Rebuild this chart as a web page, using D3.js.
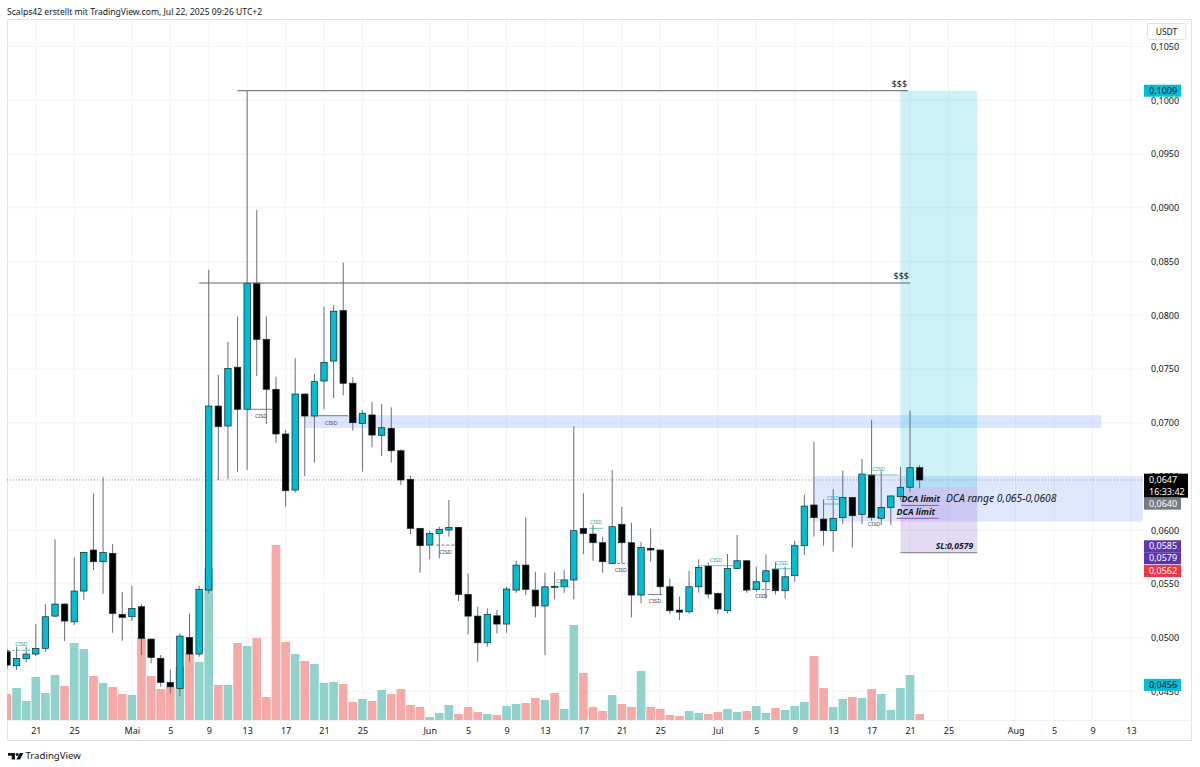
<!DOCTYPE html>
<html>
<head>
<meta charset="utf-8">
<script src="https://cdn.jsdelivr.net/npm/d3@7"></script>
<style>
  body { margin: 0; background: #fff; }
  svg text { font-family: "Noto Sans", "DejaVu Sans", sans-serif; fill: #131722; }
</style>
</head>
<body>
<svg id="chart" width="1200" height="767"></svg>
<script>
// daily candles, first one = 18 Apr 2025
var firstDay = "2025-04-18";
var opens  = [0.04868,0.04738,0.04803,0.04847,0.0490,0.0520,0.05312,0.05147,0.05433,0.05815,
              0.05706,0.05784,0.05216,0.05194,0.05287,0.04986,0.04807,0.04583,0.04527,0.05002,
              0.04847,0.05442,0.07155,0.06969,0.07516,0.07125,0.08298,0.07776,0.07311,0.06895,
              0.06373,0.07267,0.07062,0.07388,0.07574,0.08044,0.07367,0.06994,0.07072,0.06883,
              0.06948,0.06739,0.06473,0.06017,0.05861,0.0597,0.06001,0.06026,0.05402,0.052,
              0.04952,0.05203,0.05126,0.05442,0.05675,0.05442,0.05294,0.05478,0.05473,0.05536,
              0.06017,0.05964,0.05883,0.05691,0.06054,0.05883,0.05396,0.05831,0.05815,0.05473,
              0.05256,0.0524,0.05473,0.05666,0.05412,0.0525,0.05644,0.05715,0.05449,0.0552,
              0.05635,0.05436,0.05576,0.05855,0.06234,0.06103,0.05995,0.06116,0.06305,0.06147,
              0.06513,0.0611,0.06212,0.06311,0.06399,0.06581];
var highs  = [0.04899,0.04915,0.04915,0.05126,0.05312,0.05914,0.0532,0.05747,0.0580,0.06343,
              0.06492,0.05871,0.05424,0.05482,0.05312,0.0499,0.04837,0.04704,0.05039,0.05225,
              0.05482,0.08422,0.07444,0.07754,0.07987,0.1009,0.0898,0.07987,0.07428,0.06932,
              0.076,0.0727,0.07453,0.08079,0.08094,0.0849,0.07423,0.07118,0.07196,0.07174,
              0.07143,0.0675,0.06504,0.0602,0.05995,0.06032,0.0628,0.0603,0.05598,0.05287,
              0.05272,0.05256,0.05473,0.05715,0.06119,0.05613,0.05603,0.05613,0.05629,0.06969,
              0.06343,0.06048,0.05939,0.0656,0.06218,0.06069,0.05892,0.06017,0.0582,0.05551,
              0.0538,0.05622,0.05728,0.05697,0.0542,0.05778,0.05955,0.0572,0.05659,0.05775,
              0.05706,0.05659,0.05901,0.06333,0.06823,0.06287,0.0638,0.06553,0.0631,0.06662,
              0.07025,0.06553,0.06324,0.0659,0.07112,0.06606];
var lows   = [0.04707,0.04698,0.04766,0.04828,0.04868,0.05194,0.04968,0.05117,0.05349,0.05629,
              0.05405,0.05045,0.0497,0.05154,0.04837,0.0476,0.04542,0.04481,0.04456,0.04775,
              0.04821,0.05412,0.06467,0.06473,0.06544,0.0656,0.07435,0.06988,0.06814,0.06218,
              0.06348,0.06504,0.06628,0.07125,0.07227,0.07255,0.06926,0.06544,0.06771,0.0669,
              0.06628,0.0642,0.05964,0.05603,0.05728,0.05738,0.05939,0.0534,0.0503,0.04775,
              0.04915,0.05039,0.05045,0.05417,0.05396,0.05188,0.04837,0.05356,0.05417,0.05356,
              0.05778,0.05715,0.05603,0.0569,0.05691,0.05188,0.05319,0.05706,0.05396,0.05219,
              0.05163,0.05225,0.05417,0.05365,0.05219,0.05225,0.0564,0.05417,0.05427,0.05365,
              0.05402,0.05365,0.0552,0.05768,0.05939,0.05855,0.05799,0.06057,0.0584,0.06057,
              0.06088,0.06048,0.06048,0.0628,0.06358,0.06389];
var closes = [0.04744,0.04807,0.04847,0.0490,0.05194,0.05312,0.05154,0.05433,0.05793,0.05706,
              0.05793,0.05225,0.05188,0.05272,0.04993,0.04816,0.04583,0.04542,0.05014,0.04847,
              0.05449,0.07155,0.06963,0.07506,0.07125,0.08298,0.07776,0.07311,0.06895,0.06367,
              0.07267,0.07062,0.07382,0.07562,0.08038,0.07367,0.0700,0.07088,0.06885,0.06953,
              0.06739,0.06467,0.06017,0.05855,0.0597,0.06008,0.06026,0.05402,0.052,0.04952,
              0.05216,0.05126,0.05452,0.05675,0.05449,0.05294,0.05473,0.05468,0.05536,0.05995,
              0.0597,0.05883,0.05706,0.06032,0.05883,0.05396,0.0584,0.05815,0.05473,0.0525,
              0.05237,0.05473,0.05654,0.05405,0.05266,0.05644,0.05715,0.05442,0.0552,0.05622,
              0.05436,0.05566,0.05855,0.06224,0.06116,0.05995,0.0611,0.06305,0.06134,0.06522,
              0.06119,0.06212,0.06318,0.06399,0.06581,0.06467];
// volume, in M USDT (estimated)
var volumes = [26,32,19,43,27,45,34,77,71,44, 37,33,26,25,82,44,31,33,53,67,
               58,152,35,35,77,74,82,23,175,78, 66,59,56,37,38,36,18,21,19,30,
               26,31,15,13,3,7,15,6,13,8, 6,5,14,16,17,22,20,27,11,95,
               47,13,9,25,16,13,49,13,11,5, 4,9,7,6,8,11,8,9,14,7,
               12,10,14,18,64,32,13,21,23,22, 31,26,10,32,45,6];

var tickDates  = ["2025-04-21","2025-04-25","2025-05-01","2025-05-05","2025-05-09","2025-05-13","2025-05-17",
                  "2025-05-21","2025-05-25","2025-06-01","2025-06-05","2025-06-09","2025-06-13","2025-06-17",
                  "2025-06-21","2025-06-25","2025-07-01","2025-07-05","2025-07-09","2025-07-13","2025-07-17",
                  "2025-07-21","2025-07-25","2025-08-01","2025-08-05","2025-08-09","2025-08-13"];
var tickLabels = ["21","25","Mai","5","9","13","17","21","25","Jun","5","9","13","17","21","25",
                  "Jul","5","9","13","17","21","25","Aug","5","9","13"];
var priceTicks = [0.045,0.050,0.055,0.060,0.065,0.070,0.075,0.080,0.085,0.090,0.095,0.100,0.105];

// drawings (day offsets from firstDay, prices)
var liqLevels = [0.1009, 0.0830];
var liqFrom   = [24, 20];
var liqTo     = [93.8, 94];
var zoneTop = 0.0707, zoneBottom = 0.0695, zoneFrom = 31, zoneTo = 113.9;
var dcaTop = 0.065, dcaBottom = 0.0608, dcaFrom = 83.9;
var entry = 0.0640, target = 0.1009, stop = 0.0579, posFrom = 93, posTo = 101;
var dcaLimits = [0.0623, 0.0611];
var dcaLimitFrom = [93.1, 92.6];
var dcaLimitTo = 97;
// CISD marks: from day, to day, level, bullish?
var cisdFrom  = [0, 25.3, 32, 44.7, 57, 60.6, 63, 66.7, 71.9, 77, 79.6, 85, 89.5, 88.7];
var cisdTo    = [3, 27.6, 35.5, 46.6, 58.6, 62, 64.8, 68.2, 75.7, 80, 81.7, 87, 91, 92.8];
var cisdLevel = [0.0488, 0.07125, 0.07065, 0.05861, 0.05473, 0.06017, 0.05691, 0.05402, 0.05669, 0.05449, 0.05641, 0.06243, 0.0612, 0.06513];
var cisdBull  = [true, false, false, false, true, true, false, false, true, false, true, true, false, true];
// right side price tags
var tagValues = [0.1009, 0.0647, 0.0640, 0.0585, 0.0579, 0.0562, 0.0456];
var tagColors = ["#00bcd4", "#000000", "#787b86", "#5e35b1", "#5e35b1", "#f23645", "#00bcd4"];

var svg = d3.select("#chart");
var plotL = 7, plotR = 1143, plotT = 20, plotB = 720;
var parseDay = d3.utcParse("%Y-%m-%d");
var t0 = parseDay(firstDay).getTime();
function dayAt(i) { return new Date(t0 + i * 864e5); }
function fmt(v) { return v.toFixed(4).replace(".", ","); }

var x = d3.scaleUtc().domain([dayAt(0), dayAt(118.25)]).range([6.98, plotR]);
var y = d3.scaleLinear().domain([0.04233, 0.10748]).range([plotB, plotT]);
var yVol = d3.scaleLinear().domain([0, d3.max(volumes)]).range([plotB, plotB - 175]);
var step = x(dayAt(1)) - x(dayAt(0));

var candles = opens.map(function(o, i) {
  return { date: dayAt(i), o: o, h: highs[i], l: lows[i], c: closes[i], v: volumes[i] };
});

// title
svg.append("text").attr("x", 7).attr("y", 15).attr("font-size", 8.6)
  .text("Scalps42 erstellt mit TradingView.com, Jul 22, 2025 09:26 UTC+2");

// frame
svg.append("rect").attr("x", 7.5).attr("y", 19.5).attr("width", 1184).attr("height", 721)
  .attr("fill", "none").attr("stroke", "#e0e3eb");
svg.append("line").attr("x1", 7).attr("x2", 1192).attr("y1", 720.5).attr("y2", 720.5).attr("stroke", "#eef0f4");

svg.append("clipPath").attr("id", "plot").append("rect")
  .attr("x", plotL).attr("y", plotT).attr("width", plotR - plotL).attr("height", plotB - plotT);
var g = svg.append("g").attr("clip-path", "url(#plot)");

// grid
g.selectAll(".vgrid").data(tickDates).enter().append("line")
  .attr("x1", d => x(parseDay(d))).attr("x2", d => x(parseDay(d)))
  .attr("y1", plotT).attr("y2", plotB).attr("stroke", "#f2f3f6");
g.selectAll(".hgrid").data(priceTicks).enter().append("line")
  .attr("x1", plotL).attr("x2", plotR).attr("y1", d => y(d)).attr("y2", d => y(d))
  .attr("stroke", "#f2f3f6");

// volume
g.selectAll(".vol").data(candles).enter().append("rect")
  .attr("x", d => x(d.date) - step * 0.45).attr("width", step * 0.9)
  .attr("y", d => yVol(d.v)).attr("height", d => plotB - yVol(d.v))
  .attr("fill", d => d.c >= d.o ? "#92d2cc" : "#f7a9a7");

// zones
g.append("rect").attr("x", x(dayAt(zoneFrom))).attr("width", x(dayAt(zoneTo)) - x(dayAt(zoneFrom)))
  .attr("y", y(zoneTop)).attr("height", y(zoneBottom) - y(zoneTop)).attr("fill", "rgba(41,98,255,0.16)");
g.append("rect").attr("x", x(dayAt(dcaFrom))).attr("width", plotR - x(dayAt(dcaFrom)))
  .attr("y", y(dcaTop)).attr("height", y(dcaBottom) - y(dcaTop)).attr("fill", "rgba(41,98,255,0.15)");
g.append("rect").attr("x", x(dayAt(posFrom))).attr("width", x(dayAt(posTo)) - x(dayAt(posFrom)))
  .attr("y", y(target)).attr("height", y(entry) - y(target)).attr("fill", "rgba(0,188,212,0.2)");
g.append("rect").attr("x", x(dayAt(posFrom))).attr("width", x(dayAt(posTo)) - x(dayAt(posFrom)))
  .attr("y", y(entry)).attr("height", y(stop) - y(entry)).attr("fill", "rgba(103,58,183,0.18)");
g.append("line").attr("x1", x(dayAt(posFrom))).attr("x2", x(dayAt(posTo)))
  .attr("y1", y(stop)).attr("y2", y(stop)).attr("stroke", "#787b86");

// last price line
g.append("line").attr("x1", plotL).attr("x2", plotR)
  .attr("y1", y(closes[closes.length - 1])).attr("y2", y(closes[closes.length - 1]))
  .attr("stroke", "#9598a1").attr("stroke-dasharray", "1,2");

// candles
var cg = g.selectAll(".candle").data(candles).enter().append("g");
cg.append("line")
  .attr("x1", d => x(d.date)).attr("x2", d => x(d.date))
  .attr("y1", d => y(d.h)).attr("y2", d => y(d.l))
  .attr("stroke", "#6a6d78").attr("stroke-width", 1);
cg.append("rect")
  .attr("x", d => x(d.date) - 3.2).attr("width", 6.4)
  .attr("y", d => y(Math.max(d.o, d.c)))
  .attr("height", d => Math.max(1, Math.abs(y(d.o) - y(d.c))))
  .attr("fill", d => d.c >= d.o ? "#00bcd4" : "#000")
  .attr("stroke", "#10262c").attr("stroke-width", 0.7);

// liquidity lines
liqLevels.forEach(function(v, i) {
  g.append("line").attr("x1", x(dayAt(liqFrom[i]))).attr("x2", x(dayAt(liqTo[i])))
    .attr("y1", y(v)).attr("y2", y(v)).attr("stroke", "#5d606b");
  g.append("text").attr("x", x(dayAt(liqTo[i])) - 1).attr("y", y(v) - 4)
    .attr("text-anchor", "end").attr("font-size", 9).text("$$$");
});

// CISD marks
cisdFrom.forEach(function(f, i) {
  var col = cisdBull[i] ? "#26a69a" : "#434651";
  var yy = y(cisdLevel[i]);
  g.append("line").attr("x1", x(dayAt(f))).attr("x2", x(dayAt(cisdTo[i])))
    .attr("y1", yy).attr("y2", yy).attr("stroke", col).attr("stroke-width", 0.7)
    .attr("stroke-dasharray", i % 3 == 0 ? "3,2" : null);
  g.append("text").attr("x", (x(dayAt(f)) + x(dayAt(cisdTo[i]))) / 2)
    .attr("y", cisdBull[i] ? yy - 4 : yy + 9).attr("text-anchor", "middle")
    .attr("font-size", 5.5).style("fill", col).text("CISD");
});

// DCA limits
dcaLimits.forEach(function(v, i) {
  g.append("line").attr("x1", x(dayAt(dcaLimitFrom[i]))).attr("x2", x(dayAt(dcaLimitTo)))
    .attr("y1", y(v)).attr("y2", y(v)).attr("stroke", "#a04cb5").attr("stroke-width", 1);
  g.append("text").attr("x", x(dayAt(dcaLimitFrom[i]))).attr("y", y(v) - 3)
    .attr("font-size", 8.8).attr("font-style", "italic").attr("font-weight", "bold").text("DCA limit");
});
g.append("text").attr("x", 946).attr("y", (y(dcaTop) + y(dcaBottom)) / 2 + 3)
  .attr("font-size", 10.3).attr("font-style", "italic").text("DCA range 0,065-0,0608");
g.append("text").attr("x", x(dayAt(posTo)) - 4).attr("y", y(stop) - 4).attr("text-anchor", "end")
  .attr("font-size", 8.6).attr("font-style", "italic").attr("font-weight", "bold").text("SL:" + fmt(stop));

// x axis
var xAxis = d3.axisBottom(x).tickValues(tickDates.map(parseDay)).tickSize(0).tickPadding(0)
  .tickFormat((d, i) => tickLabels[i]);
var xa = svg.append("g").attr("transform", "translate(0," + 734 + ")").call(xAxis);
xa.select(".domain").remove();
xa.selectAll("text").attr("font-size", 9).attr("dy", 0).style("fill", "#131722")
  .attr("font-family", "Noto Sans, sans-serif");

// y axis
var yAxis = d3.axisRight(y).tickValues(priceTicks).tickSize(0).tickPadding(0).tickFormat(fmt);
var ya = svg.append("g").attr("transform", "translate(1151,0)").call(yAxis);
ya.select(".domain").remove();
ya.selectAll("text").attr("font-size", 9).attr("font-family", "Noto Sans, sans-serif").style("fill", "#131722");

svg.append("rect").attr("x", 1147.5).attr("y", 23.5).attr("width", 38).attr("height", 16).attr("rx", 2)
  .attr("fill", "#fff").attr("stroke", "#e0e3eb");
svg.append("text").attr("x", 1166.5).attr("y", 34.5).attr("text-anchor", "middle").attr("font-size", 8.5).text("USDT");

// price tags, pushed down when they overlap (they cover the axis labels)
var lastBottom = 0;
tagValues.forEach(function(v, i) {
  var h = i == 1 ? 24 : 12;
  var ty = Math.max(y(v) - 6, lastBottom);
  lastBottom = ty + h;
  svg.append("rect").attr("x", 1144).attr("y", ty).attr("width", i == 1 ? 44 : 37).attr("height", h)
    .attr("fill", tagColors[i]);
  var tc = tagColors[i] == "#00bcd4" ? "#131722" : "#fff";
  svg.append("text").attr("x", 1149).attr("y", ty + 9).attr("font-size", 9).style("fill", tc).text(fmt(v));
  if (i == 1) {
    svg.append("text").attr("x", 1149).attr("y", ty + 21).attr("font-size", 9).style("fill", tc).text("16:33:42");
  }
});

// TradingView logo
var logo = svg.append("g").attr("fill", "#131722");
logo.append("path").attr("d", "M8 753 h7 v6.5 h-3.3 v-3.7 h-3.7 z");
logo.append("circle").attr("cx", 17.2).attr("cy", 754.5).attr("r", 1.5);
logo.append("path").attr("d", "M19.8 753 h3.6 l-3.4 6.5 h-3.6 z");
svg.append("text").attr("x", 25.5).attr("y", 759).attr("font-size", 9.6).text("TradingView");
</script>
</body>
</html>
